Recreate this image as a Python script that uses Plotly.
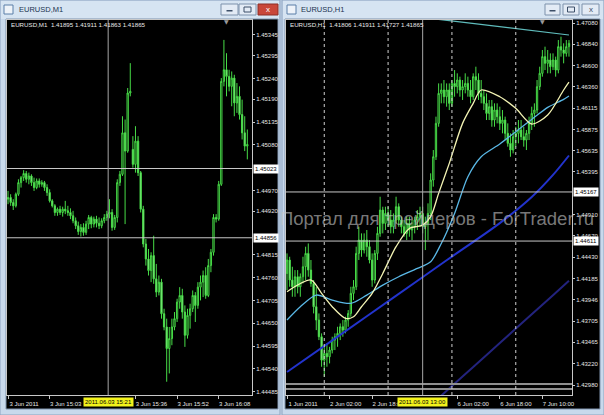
import plotly.graph_objects as go

W, H = 604, 415
FONT = "Liberation Sans"

# ---------------- data : EURUSD M1 (left window) ----------------
m1_open = [1.44949, 1.44953, 1.44941, 1.44933, 1.44961, 1.44989, 1.45001, 1.45011, 1.44997, 1.45005,
           1.44989, 1.44977, 1.44993, 1.44985, 1.44989, 1.44977, 1.44965, 1.44945, 1.44933, 1.44917,
           1.44925, 1.44917, 1.44925, 1.44921, 1.44917, 1.44909, 1.44897, 1.44885, 1.44871, 1.44881,
           1.44869, 1.44889, 1.44905, 1.44889, 1.44901, 1.44891, 1.44885, 1.44897, 1.44905, 1.44913,
           1.44917, 1.44881, 1.44905, 1.44989, 1.45009, 1.45109, 1.45065, 1.45205, 1.45069, 1.45033,
           1.45089, 1.45013, 1.44925, 1.44841, 1.44805, 1.44777, 1.44813, 1.44757, 1.44725, 1.44749,
           1.44673, 1.44641, 1.44589, 1.44613, 1.44641, 1.44661, 1.44701, 1.44717, 1.44677, 1.44621,
           1.44669, 1.44685, 1.44717, 1.44693, 1.44737, 1.44749, 1.44765, 1.44717, 1.44789, 1.44821,
           1.44905, 1.44901, 1.44985, 1.45233, 1.45261, 1.45245, 1.45221, 1.45241, 1.45181, 1.45197,
           1.45153, 1.45109, 1.45077]
m1_high = [1.44969, 1.44961, 1.44949, 1.44965, 1.44997, 1.45005, 1.45019, 1.45017, 1.45013, 1.45009,
           1.45001, 1.44999, 1.44999, 1.44995, 1.44993, 1.44985, 1.44973, 1.44949, 1.44937, 1.44929,
           1.44933, 1.44931, 1.44945, 1.44933, 1.44927, 1.44921, 1.44905, 1.44895, 1.44889, 1.44891,
           1.44897, 1.44911, 1.44909, 1.44907, 1.44909, 1.44905, 1.44903, 1.44913, 1.44921, 1.44949,
           1.44925, 1.44911, 1.44997, 1.45017, 1.45149, 1.45141, 1.45217, 1.45277, 1.45101, 1.45125,
           1.45101, 1.45017, 1.44933, 1.44853, 1.44829, 1.44821, 1.44861, 1.44793, 1.44765, 1.44757,
           1.44685, 1.44661, 1.44641, 1.44661, 1.44677, 1.44709, 1.44737, 1.44733, 1.44693, 1.44685,
           1.44697, 1.44729, 1.44725, 1.44749, 1.44765, 1.44777, 1.44785, 1.44805, 1.44829, 1.44913,
           1.44913, 1.44993, 1.45241, 1.45333, 1.45301, 1.45261, 1.45257, 1.45249, 1.45229, 1.45221,
           1.45189, 1.45149, 1.45117]
m1_low = [1.44937, 1.44933, 1.44923, 1.44929, 1.44957, 1.44977, 1.44993, 1.44989, 1.44985, 1.44981,
          1.44969, 1.44973, 1.44977, 1.44979, 1.44969, 1.44957, 1.44941, 1.44929, 1.44909, 1.44909,
          1.44911, 1.44907, 1.44913, 1.44909, 1.44901, 1.44891, 1.44877, 1.44863, 1.44859, 1.44861,
          1.44863, 1.44877, 1.44879, 1.44881, 1.44881, 1.44877, 1.44879, 1.44891, 1.44897, 1.44903,
          1.44873, 1.44875, 1.44893, 1.44981, 1.45005, 1.44889, 1.45061, 1.45197, 1.45025, 1.45013,
          1.45005, 1.44917, 1.44833, 1.44789, 1.44765, 1.44749, 1.44745, 1.44713, 1.44717, 1.44661,
          1.44633, 1.44509, 1.44529, 1.44597, 1.44633, 1.44653, 1.44685, 1.44661, 1.44593, 1.44613,
          1.44637, 1.44677, 1.44653, 1.44685, 1.44705, 1.44713, 1.44709, 1.44713, 1.44773, 1.44813,
          1.44893, 1.44897, 1.44981, 1.45221, 1.45197, 1.45209, 1.45173, 1.45149, 1.45157, 1.45141,
          1.45093, 1.45065, 1.45045]
m1_close = [1.44953, 1.44941, 1.44933, 1.44961, 1.44989, 1.45001, 1.45011, 1.44997, 1.45005, 1.44989,
            1.44977, 1.44993, 1.44985, 1.44989, 1.44977, 1.44965, 1.44945, 1.44933, 1.44917, 1.44925,
            1.44917, 1.44925, 1.44921, 1.44917, 1.44909, 1.44897, 1.44885, 1.44871, 1.44881, 1.44869,
            1.44889, 1.44905, 1.44889, 1.44901, 1.44891, 1.44885, 1.44897, 1.44905, 1.44913, 1.44917,
            1.44881, 1.44905, 1.44989, 1.45009, 1.45109, 1.45065, 1.45205, 1.45209, 1.45033, 1.45089,
            1.45013, 1.44925, 1.44841, 1.44805, 1.44777, 1.44813, 1.44757, 1.44725, 1.44749, 1.44673,
            1.44641, 1.44589, 1.44613, 1.44641, 1.44661, 1.44701, 1.44717, 1.44677, 1.44621, 1.44669,
            1.44685, 1.44717, 1.44693, 1.44737, 1.44749, 1.44765, 1.44717, 1.44789, 1.44821, 1.44905,
            1.44901, 1.44985, 1.45233, 1.45261, 1.45245, 1.45221, 1.45241, 1.45181, 1.45197, 1.45153,
            1.45109, 1.45077, 1.45081]
m1_time_ticks = [0, 16, 49, 65, 81]
m1_time_labels = ["3 Jun 2011", "3 Jun 15:03", "3 Jun 15:36", "3 Jun 15:52", "3 Jun 16:08"]
m1_price_ticks = [1.45345, 1.45295, 1.45240, 1.45190, 1.45135, 1.45080, 1.44970, 1.44920,
                  1.44815, 1.44760, 1.44705, 1.44650, 1.44595, 1.44540, 1.44485]
m1_marked_prices = [1.45023, 1.44856]
m1_cursor_bar = 38.5
m1_cursor_label = "2011.06.03 15:21"
m1_header = "EURUSD,M1  1.41895 1.41911 1.41863 1.41865"

# ---------------- data : EURUSD H1 (right window) ----------------
h1_open = [1.44244, 1.44396, 1.44169, 1.44093, 1.44207, 1.44093, 1.44207, 1.44320, 1.44471, 1.44282,
           1.44131, 1.43867, 1.43716, 1.43527, 1.43262, 1.43338, 1.43300, 1.43376, 1.43489, 1.43527,
           1.43565, 1.43640, 1.43602, 1.43716, 1.43791, 1.44018, 1.44093, 1.44471, 1.44622, 1.44509,
           1.44622, 1.44547, 1.44396, 1.44169, 1.44471, 1.44698, 1.44962, 1.44811, 1.44924, 1.44849,
           1.44773, 1.44849, 1.45000, 1.44849, 1.44773, 1.44698, 1.44811, 1.44736, 1.44773, 1.44849,
           1.44887, 1.44924, 1.44773, 1.44811, 1.44924, 1.45302, 1.45566, 1.45944, 1.46284, 1.46322,
           1.46246, 1.46322, 1.46171, 1.46397, 1.46360, 1.46435, 1.46322, 1.46360, 1.46397, 1.46322,
           1.46246, 1.46473, 1.46435, 1.46284, 1.46246, 1.46171, 1.46057, 1.46133, 1.45982, 1.46095,
           1.46020, 1.45944, 1.45982, 1.45831, 1.45718, 1.45642, 1.45793, 1.45831, 1.45869, 1.45793,
           1.45755, 1.45831, 1.45944, 1.46057, 1.46095, 1.46360, 1.46511, 1.46700, 1.46624, 1.46662,
           1.46586, 1.46662, 1.46548, 1.46813, 1.46775, 1.46737, 1.46813]
h1_high = [1.44471, 1.44433, 1.44320, 1.44282, 1.44282, 1.44244, 1.44433, 1.44547, 1.44584, 1.44396,
           1.44169, 1.44093, 1.43791, 1.43565, 1.43413, 1.43451, 1.43413, 1.43527, 1.43565, 1.43640,
           1.43678, 1.43716, 1.43754, 1.43829, 1.44093, 1.44169, 1.44547, 1.44773, 1.44698, 1.44698,
           1.44736, 1.44622, 1.44471, 1.44509, 1.44773, 1.45113, 1.45000, 1.45000, 1.45000, 1.44962,
           1.44924, 1.45113, 1.45038, 1.44887, 1.44849, 1.44887, 1.44887, 1.44849, 1.44887, 1.44962,
           1.45000, 1.45000, 1.44887, 1.45038, 1.45378, 1.45642, 1.46020, 1.46397, 1.46397, 1.46435,
           1.46397, 1.46397, 1.46435, 1.46548, 1.46511, 1.46473, 1.46435, 1.46511, 1.46473, 1.46435,
           1.46511, 1.46586, 1.46511, 1.46435, 1.46322, 1.46284, 1.46209, 1.46209, 1.46171, 1.46171,
           1.46133, 1.46095, 1.46020, 1.45944, 1.45831, 1.45869, 1.45906, 1.45982, 1.45982, 1.45906,
           1.45869, 1.46020, 1.46133, 1.46171, 1.46435, 1.46586, 1.46775, 1.46813, 1.46775, 1.46737,
           1.46737, 1.46700, 1.46888, 1.46926, 1.46851, 1.46888, 1.46888]
h1_low = [1.44056, 1.44093, 1.43980, 1.43980, 1.44018, 1.43980, 1.44131, 1.44169, 1.44207, 1.44093,
          1.43791, 1.43602, 1.43489, 1.43187, 1.43073, 1.43187, 1.43225, 1.43338, 1.43376, 1.43413,
          1.43489, 1.43527, 1.43565, 1.43640, 1.43754, 1.43942, 1.44056, 1.44396, 1.44433, 1.44471,
          1.44433, 1.44358, 1.44093, 1.44131, 1.44396, 1.44660, 1.44698, 1.44736, 1.44773, 1.44698,
          1.44698, 1.44811, 1.44773, 1.44698, 1.44660, 1.44622, 1.44660, 1.44622, 1.44698, 1.44736,
          1.44773, 1.44698, 1.44509, 1.44622, 1.44849, 1.45227, 1.45529, 1.45906, 1.46171, 1.46171,
          1.46133, 1.46095, 1.46133, 1.46246, 1.46284, 1.46246, 1.46209, 1.46284, 1.46246, 1.46171,
          1.46209, 1.46322, 1.46209, 1.46171, 1.46095, 1.45982, 1.45982, 1.45906, 1.45906, 1.45944,
          1.45869, 1.45831, 1.45755, 1.45680, 1.45566, 1.45604, 1.45680, 1.45718, 1.45755, 1.45680,
          1.45642, 1.45755, 1.45869, 1.45906, 1.46057, 1.46322, 1.46473, 1.46548, 1.46511, 1.46511,
          1.46548, 1.46473, 1.46511, 1.46700, 1.46624, 1.46700, 1.46700]
h1_close = [1.44396, 1.44169, 1.44093, 1.44207, 1.44093, 1.44207, 1.44320, 1.44471, 1.44282, 1.44131,
            1.43867, 1.43716, 1.43527, 1.43262, 1.43338, 1.43300, 1.43376, 1.43489, 1.43527, 1.43565,
            1.43640, 1.43602, 1.43716, 1.43791, 1.44018, 1.44093, 1.44471, 1.44622, 1.44509, 1.44622,
            1.44547, 1.44396, 1.44169, 1.44471, 1.44698, 1.44962, 1.44811, 1.44924, 1.44849, 1.44773,
            1.44849, 1.45000, 1.44849, 1.44773, 1.44698, 1.44811, 1.44736, 1.44773, 1.44849, 1.44887,
            1.44924, 1.44773, 1.44811, 1.44924, 1.45302, 1.45566, 1.45944, 1.46284, 1.46322, 1.46246,
            1.46322, 1.46171, 1.46397, 1.46360, 1.46435, 1.46322, 1.46360, 1.46397, 1.46322, 1.46246,
            1.46473, 1.46435, 1.46284, 1.46246, 1.46171, 1.46057, 1.46133, 1.45982, 1.46095, 1.46020,
            1.45944, 1.45982, 1.45831, 1.45718, 1.45642, 1.45793, 1.45831, 1.45869, 1.45793, 1.45755,
            1.45831, 1.45944, 1.46057, 1.46095, 1.46360, 1.46511, 1.46700, 1.46624, 1.46662, 1.46586,
            1.46662, 1.46548, 1.46813, 1.46775, 1.46737, 1.46813, 1.46851]
h1_time_ticks = [0, 16, 32, 64, 80, 96]
h1_time_labels = ["1 Jun 2011", "2 Jun 02:00", "2 Jun 18:00",
                  "6 Jun 02:00", "6 Jun 18:00", "7 Jun 10:00"]
h1_price_ticks = [1.47080, 1.46840, 1.46600, 1.46360, 1.46115, 1.45875, 1.45635, 1.45395,
                  1.44910, 1.44670, 1.44430, 1.44185, 1.43946, 1.43705, 1.43465, 1.43220, 1.42980]
h1_marked_prices = [1.45167, 1.44611]
h1_bottom_lines = [1.42992, 1.42935]
h1_separators = [14, 38, 62, 86]
h1_cursor_bar = 51
h1_cursor_label = "2011.06.03 13:00"
h1_header = "EURUSD,H1  1.41806 1.41911 1.41727 1.41865"

# moving averages on H1 (bar index, value)
ma_fast_x = [0, 9, 13, 17, 22, 25, 28, 32, 36, 41, 46, 51, 54, 57, 61, 66, 70, 73, 80, 86, 92, 98, 104, 106]
ma_fast_y = [1.44037, 1.44169, 1.44018, 1.43867, 1.43735, 1.43754, 1.43867, 1.44018, 1.44244, 1.44547,
             1.44754, 1.44792, 1.44887, 1.45151, 1.45491, 1.45944, 1.46171, 1.46322, 1.46246, 1.46114,
             1.45937, 1.46039, 1.46322, 1.46410]
ma_mid_x = [0, 5, 11, 17, 24, 30, 36, 42, 49, 54, 58, 63, 68, 73, 80, 86, 92, 98, 104, 106]
ma_mid_y = [1.43716, 1.43867, 1.43999, 1.43942, 1.43905, 1.43999, 1.44112, 1.44207, 1.44301, 1.44377,
            1.44584, 1.44924, 1.45340, 1.45566, 1.45710, 1.45850, 1.45989, 1.46125, 1.46216, 1.46254]
ma_slow_x = [0, 20, 40, 60, 80, 92, 100, 106]
ma_slow_y = [1.43127, 1.43548, 1.43970, 1.44393, 1.44814, 1.45110, 1.45360, 1.45580]
ma_slowest_x = [55, 62, 70, 80, 90, 100, 106]
ma_slowest_y = [1.42778, 1.42968, 1.43185, 1.43456, 1.43727, 1.43998, 1.44161]
ma_top_x = [55, 61, 106]
ma_top_y = [1.47129, 1.47107, 1.46945]

watermark = "Портал для трейдеров - ForTrader.ru"


# ---------------- helpers (pixel -> paper) ----------------
def px(x):
    return x / W


def py(y):
    return 1 - y / H


shapes = []
annotations = []


def rect(x0, y0, x1, y1, fill, line=None, lw=1, layer="below"):
    shapes.append(dict(type="rect", xref="paper", yref="paper",
                       x0=px(x0), x1=px(x1), y0=py(y1), y1=py(y0),
                       fillcolor=fill, layer=layer,
                       line=dict(color=line if line else fill, width=lw if line else 0)))


def text(x, y, s, size, color, xanchor="left", bg=None, font=FONT):
    annotations.append(dict(x=px(x), y=py(y), xref="paper", yref="paper",
                            text=s, showarrow=False, xanchor=xanchor, yanchor="middle",
                            font=dict(family=font, size=size, color=color),
                            bgcolor=bg, borderpad=1 if bg else 0))


FRAME = "#c8d9ec"
TITLE = "#d6e4f2"
EDGE = "#8da3bf"

# window frames
rect(0, 0, 280, 415, FRAME, EDGE)
rect(282, 0, 604, 415, FRAME, EDGE)
rect(1, 1, 279, 19, TITLE)
rect(283, 1, 603, 19, TITLE)
# black chart areas
rect(6, 19, 278, 409, "#000000", "#7f93ad")
rect(285, 19, 600, 409, "#000000", "#7f93ad")

# title icons
rect(4, 5, 13, 14, "#eef3f9", "#5b7fa8", layer="above")
rect(287, 5, 296, 14, "#eef3f9", "#5b7fa8", layer="above")
text(18, 10, "EURUSD,M1", 7.5, "#1c3350")
text(300, 10, "EURUSD,H1", 7.5, "#1c3350")

# window buttons
for (x0, x1) in [(221, 238), (239, 256), (545, 560), (563, 579)]:
    rect(x0, 4, x1, 15, "#e3ebf5", "#7d91ab", layer="above")
rect(258, 4, 278, 15, "#c9473a", "#8c2f26", layer="above")
rect(582, 4, 599, 15, "#e3ebf5", "#7d91ab", layer="above")
for xc in (229.5, 552.5):
    rect(xc - 3, 10, xc + 3, 11.5, "#3c4f68", layer="above")
for xc in (247.5, 571):
    rect(xc - 3.5, 7, xc + 3.5, 12, "rgba(0,0,0,0)", "#3c4f68", layer="above")
text(268, 9.5, "x", 8, "#ffffff", xanchor="center")
text(590.5, 9.5, "x", 8, "#3c4f68", xanchor="center")

# ---------------- traces ----------------
CAND = "#47dc47"
fig = go.Figure()
fig.add_trace(go.Candlestick(
    x=list(range(len(m1_open))), open=m1_open, high=m1_high, low=m1_low, close=m1_close,
    xaxis="x", yaxis="y", whiskerwidth=0,
    increasing=dict(line=dict(color=CAND, width=1), fillcolor="#000000"),
    decreasing=dict(line=dict(color=CAND, width=1), fillcolor="#a6f2a6"),
    hoverinfo="skip", showlegend=False))
fig.add_trace(go.Candlestick(
    x=list(range(len(h1_open))), open=h1_open, high=h1_high, low=h1_low, close=h1_close,
    xaxis="x2", yaxis="y2", whiskerwidth=0,
    increasing=dict(line=dict(color=CAND, width=1), fillcolor="#000000"),
    decreasing=dict(line=dict(color=CAND, width=1), fillcolor="#a6f2a6"),
    hoverinfo="skip", showlegend=False))

for xs, ys, col, wd in [(ma_slowest_x, ma_slowest_y, "#23237e", 2),
                        (ma_slow_x, ma_slow_y, "#2233cc", 2),
                        (ma_mid_x, ma_mid_y, "#5ab8e6", 1.3),
                        (ma_fast_x, ma_fast_y, "#f4f4b4", 1.3),
                        (ma_top_x, ma_top_y, "#5fbcbc", 1.2)]:
    fig.add_trace(go.Scatter(x=xs, y=ys, mode="lines", xaxis="x2", yaxis="y2",
                             line=dict(color=col, width=wd, shape="spline", smoothing=0.8),
                             hoverinfo="skip", showlegend=False))

# ---------------- chart objects ----------------
LINE = "#c8c8c8"
for p in m1_marked_prices:
    shapes.append(dict(type="line", xref="x domain", yref="y", x0=0, x1=1, y0=p, y1=p,
                       line=dict(color=LINE, width=1), layer="above"))
for p in h1_marked_prices:
    shapes.append(dict(type="line", xref="x2 domain", yref="y2", x0=0, x1=1, y0=p, y1=p,
                       line=dict(color=LINE, width=1), layer="above"))
for p in h1_bottom_lines:
    shapes.append(dict(type="line", xref="x2 domain", yref="y2", x0=0, x1=1, y0=p, y1=p,
                       line=dict(color="#8f8f8f", width=2), layer="above"))
shapes.append(dict(type="line", xref="x", yref="y domain", x0=m1_cursor_bar, x1=m1_cursor_bar,
                   y0=0, y1=1, line=dict(color="#a8a8a8", width=1), layer="above"))
shapes.append(dict(type="line", xref="x2", yref="y2 domain", x0=h1_cursor_bar, x1=h1_cursor_bar,
                   y0=0, y1=1, line=dict(color="#a8a8a8", width=1), layer="above"))
for s in h1_separators:
    shapes.append(dict(type="line", xref="x2", yref="y2 domain", x0=s, x1=s, y0=0, y1=1,
                       line=dict(color="#d0d0d0", width=1, dash="dot"), layer="above"))

# marked price boxes on the price scales
for p in m1_marked_prices:
    annotations.append(dict(x=px(253), y=p, xref="paper", yref="y", text=f"{p:.5f}",
                            showarrow=False, xanchor="left", yanchor="middle",
                            font=dict(family=FONT, size=6, color="#000000"),
                            bgcolor="#ffffff", borderpad=1))
for p in h1_marked_prices:
    annotations.append(dict(x=px(573), y=p, xref="paper", yref="y2", text=f"{p:.5f}",
                            showarrow=False, xanchor="left", yanchor="middle",
                            font=dict(family=FONT, size=6, color="#000000"),
                            bgcolor="#ffffff", borderpad=1))

# cursor time labels
for bar, lab, xr in [(m1_cursor_bar, m1_cursor_label, "x"), (h1_cursor_bar, h1_cursor_label, "x2")]:
    annotations.append(dict(x=bar, y=py(402), xref=xr, yref="paper", text=lab,
                            showarrow=False, xanchor="center", yanchor="middle",
                            font=dict(family=FONT, size=6, color="#000000"),
                            bgcolor="#f2f21c", borderpad=1))

# headers inside charts
text(10, 25, m1_header, 6.2, "#e8e8e8")
text(289, 25, h1_header, 6.2, "#e8e8e8")
# shift markers
text(226, 22, "▼", 6, "#9a9a9a", xanchor="center", font="DejaVu Sans")
text(542, 22, "▼", 6, "#9a9a9a", xanchor="center", font="DejaVu Sans")
# watermark
annotations.append(dict(x=px(437), y=py(218), xref="paper", yref="paper", text=watermark,
                        showarrow=False, xanchor="center", yanchor="middle",
                        font=dict(family=FONT, size=18.5, color="rgba(200,200,200,0.62)")))

# ---------------- axes ----------------
tickfont = dict(family=FONT, size=6, color="#e6e6e6")
ydom = [py(395), py(20)]


def xaxis(domain, rng, tv, tt, anchor):
    return dict(domain=domain, range=rng, tickvals=tv, ticktext=tt, ticks="outside", ticklen=3,
                tickcolor=LINE, tickfont=tickfont, showgrid=False, zeroline=False,
                showline=True, linecolor=LINE, linewidth=1, mirror=True,
                rangeslider=dict(visible=False), anchor=anchor, ticklabelshift=16,
                fixedrange=True, automargin=False)


def yaxis(rng, tv, anchor):
    return dict(domain=ydom, range=rng, side="right", tickvals=tv,
                ticktext=[f"{v:.5f}" for v in tv], ticks="outside", ticklen=2, tickcolor=LINE,
                tickfont=tickfont, showgrid=False, zeroline=False, showline=True,
                linecolor=LINE, linewidth=1, mirror=True, anchor=anchor,
                fixedrange=True, automargin=False)


fig.update_layout(
    width=W, height=H, margin=dict(l=0, r=0, t=0, b=0),
    paper_bgcolor=FRAME, plot_bgcolor="#000000", showlegend=False, hovermode=False,
    xaxis=xaxis([px(7), px(252)], [-0.4, 93.8], m1_time_ticks, m1_time_labels, "y"),
    yaxis=yaxis([1.44477, 1.45381], m1_price_ticks, "x"),
    xaxis2=xaxis([px(286), px(572)], [-0.38, 107.14], h1_time_ticks, h1_time_labels, "y2"),
    yaxis2=yaxis([1.42867, 1.47115], h1_price_ticks, "x2"),
    shapes=shapes, annotations=annotations,
)

fig.write_html("out.html", config={"displayModeBar": False, "staticPlot": True},
               post_script="document.body.style.margin='0';document.body.style.padding='0';")
